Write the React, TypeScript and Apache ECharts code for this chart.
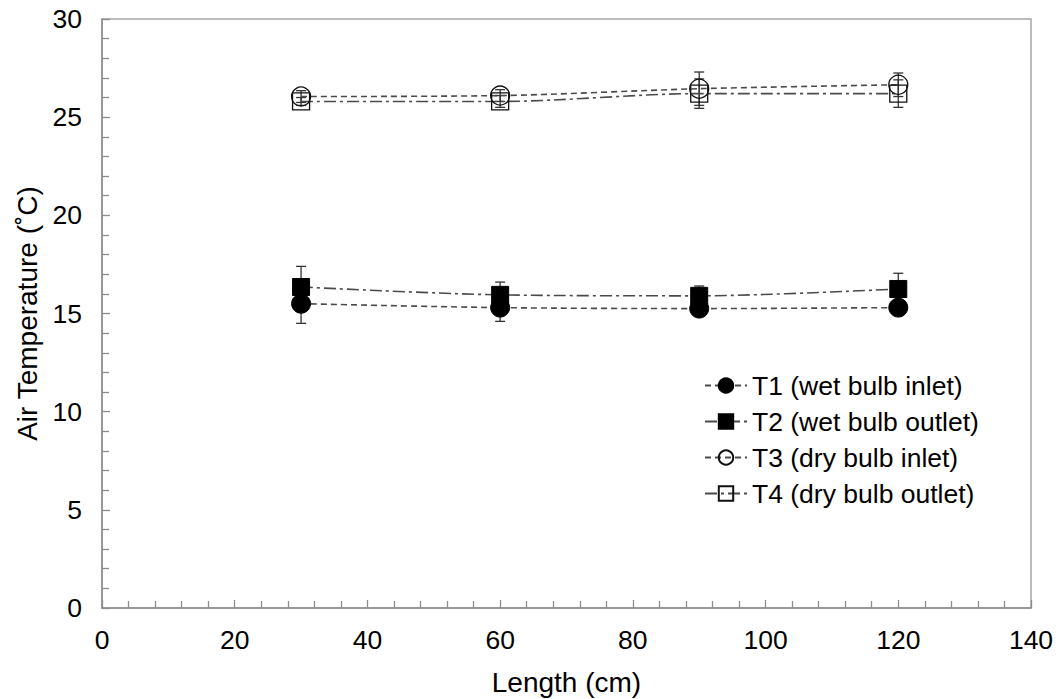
import { useEffect, useRef } from "react";
import * as echarts from "echarts";

const lengths = [30, 60, 90, 120];
const t1 = [15.5, 15.3, 15.25, 15.3];
const t1Err = [1.0, 0.7, 0.2, 0.2];
const t2 = [16.35, 15.95, 15.9, 16.25];
const t2Err = [1.05, 0.65, 0.5, 0.8];
const t3 = [26.05, 26.1, 26.45, 26.65];
const t3Err = [0.3, 0.3, 0.85, 0.6];
const t4 = [25.8, 25.8, 26.2, 26.2];
const t4Err = [0.2, 0.3, 0.75, 0.7];

const names = [
  "T1 (wet bulb inlet)",
  "T2 (wet bulb outlet)",
  "T3 (dry bulb inlet)",
  "T4 (dry bulb outlet)",
];

const FONT = "Liberation Sans, Arial, sans-serif";
const LINE = "#4a4a4a";
const DASH = [6, 4];
const DASHDOT = [12, 4, 3, 4];

function errSeries(vals: number[], errs: number[]) {
  return {
    type: "custom",
    silent: true,
    z: 1,
    data: lengths.map((x, i) => [x, vals[i] - errs[i], vals[i] + errs[i]]),
    encode: { x: 0, y: [1, 2] },
    renderItem: (_p: any, api: any) => {
      const x = api.value(0);
      const lo = api.coord([x, api.value(1)]);
      const hi = api.coord([x, api.value(2)]);
      const w = 5;
      const st = { stroke: "#333", lineWidth: 1.3 };
      return {
        type: "group",
        children: [
          { type: "line", shape: { x1: lo[0], y1: lo[1], x2: hi[0], y2: hi[1] }, style: st },
          { type: "line", shape: { x1: lo[0] - w, y1: lo[1], x2: lo[0] + w, y2: lo[1] }, style: st },
          { type: "line", shape: { x1: hi[0] - w, y1: hi[1], x2: hi[0] + w, y2: hi[1] }, style: st },
        ],
      };
    },
  };
}

function lineSeries(name: string, vals: number[], symbol: string, filled: boolean, dash: number[]) {
  return {
    type: "line",
    name,
    data: lengths.map((x, i) => [x, vals[i]]),
    symbol,
    symbolSize: symbol === "rect" ? 17 : 19,
    smooth: 0.3,
    z: 3,
    lineStyle: { color: LINE, width: 1.6, type: dash },
    itemStyle: filled
      ? { color: "#000", borderColor: "#000", borderWidth: 1 }
      : { color: "transparent", borderColor: "#111", borderWidth: 1.3 },
  };
}

export default function App() {
  const ref = useRef<HTMLDivElement>(null);
  useEffect(() => {
    document.body.style.margin = "0";
    const chart = echarts.init(ref.current!, null, { renderer: "svg" });
    chart.setOption({
      animation: false,
      backgroundColor: "#fff",
      textStyle: { fontFamily: FONT, color: "#000" },
      grid: {
        left: 102,
        top: 19,
        right: 28,
        bottom: 91,
        show: true,
        borderColor: "#a6a6a6",
        borderWidth: 1.5,
        outerBoundsMode: "none",
        containLabel: false,
      },
      legend: {
        orient: "vertical",
        left: 699,
        top: 367,
        itemWidth: 42,
        itemHeight: 18,
        itemGap: 9,
        data: names,
        textStyle: { fontSize: 26.5, color: "#000", fontFamily: FONT },
      },
      xAxis: {
        type: "value",
        min: 0,
        max: 140,
        interval: 20,
        name: "Length (cm)",
        nameLocation: "middle",
        nameGap: 60,
        nameTextStyle: { fontSize: 28, color: "#000", fontFamily: FONT },
        axisLine: { show: true, lineStyle: { color: "#8c8c8c", width: 1.5 } },
        axisTick: { show: true, inside: true, length: 8, lineStyle: { color: "#8c8c8c", width: 1.3 } },
        minorTick: { show: true, splitNumber: 5, length: 7, lineStyle: { color: "#8c8c8c", width: 1.3 } },
        splitLine: { show: false },
        axisLabel: { fontSize: 26.5, color: "#000", margin: 18, fontFamily: FONT },
      },
      yAxis: {
        type: "value",
        min: 0,
        max: 30,
        interval: 5,
        name: "Air Temperature (˚C)",
        nameLocation: "middle",
        nameGap: 60,
        nameTextStyle: { fontSize: 28, color: "#000", fontFamily: FONT },
        axisLine: { show: true, lineStyle: { color: "#8c8c8c", width: 1.5 } },
        axisTick: { show: true, inside: true, length: 8, lineStyle: { color: "#8c8c8c", width: 1.3 } },
        minorTick: { show: true, splitNumber: 5, length: 7, lineStyle: { color: "#8c8c8c", width: 1.3 } },
        splitLine: { show: false },
        axisLabel: { fontSize: 26.5, color: "#000", margin: 20, fontFamily: FONT },
      },
      series: [
        errSeries(t1, t1Err),
        errSeries(t2, t2Err),
        errSeries(t3, t3Err),
        errSeries(t4, t4Err),
        lineSeries(names[0], t1, "circle", true, DASH),
        lineSeries(names[1], t2, "rect", true, DASHDOT),
        lineSeries(names[2], t3, "circle", false, DASH),
        lineSeries(names[3], t4, "rect", false, DASHDOT),
      ],
    });
    return () => chart.dispose();
  }, []);
  return <div ref={ref} style={{ width: 1059, height: 699 }} />;
}
